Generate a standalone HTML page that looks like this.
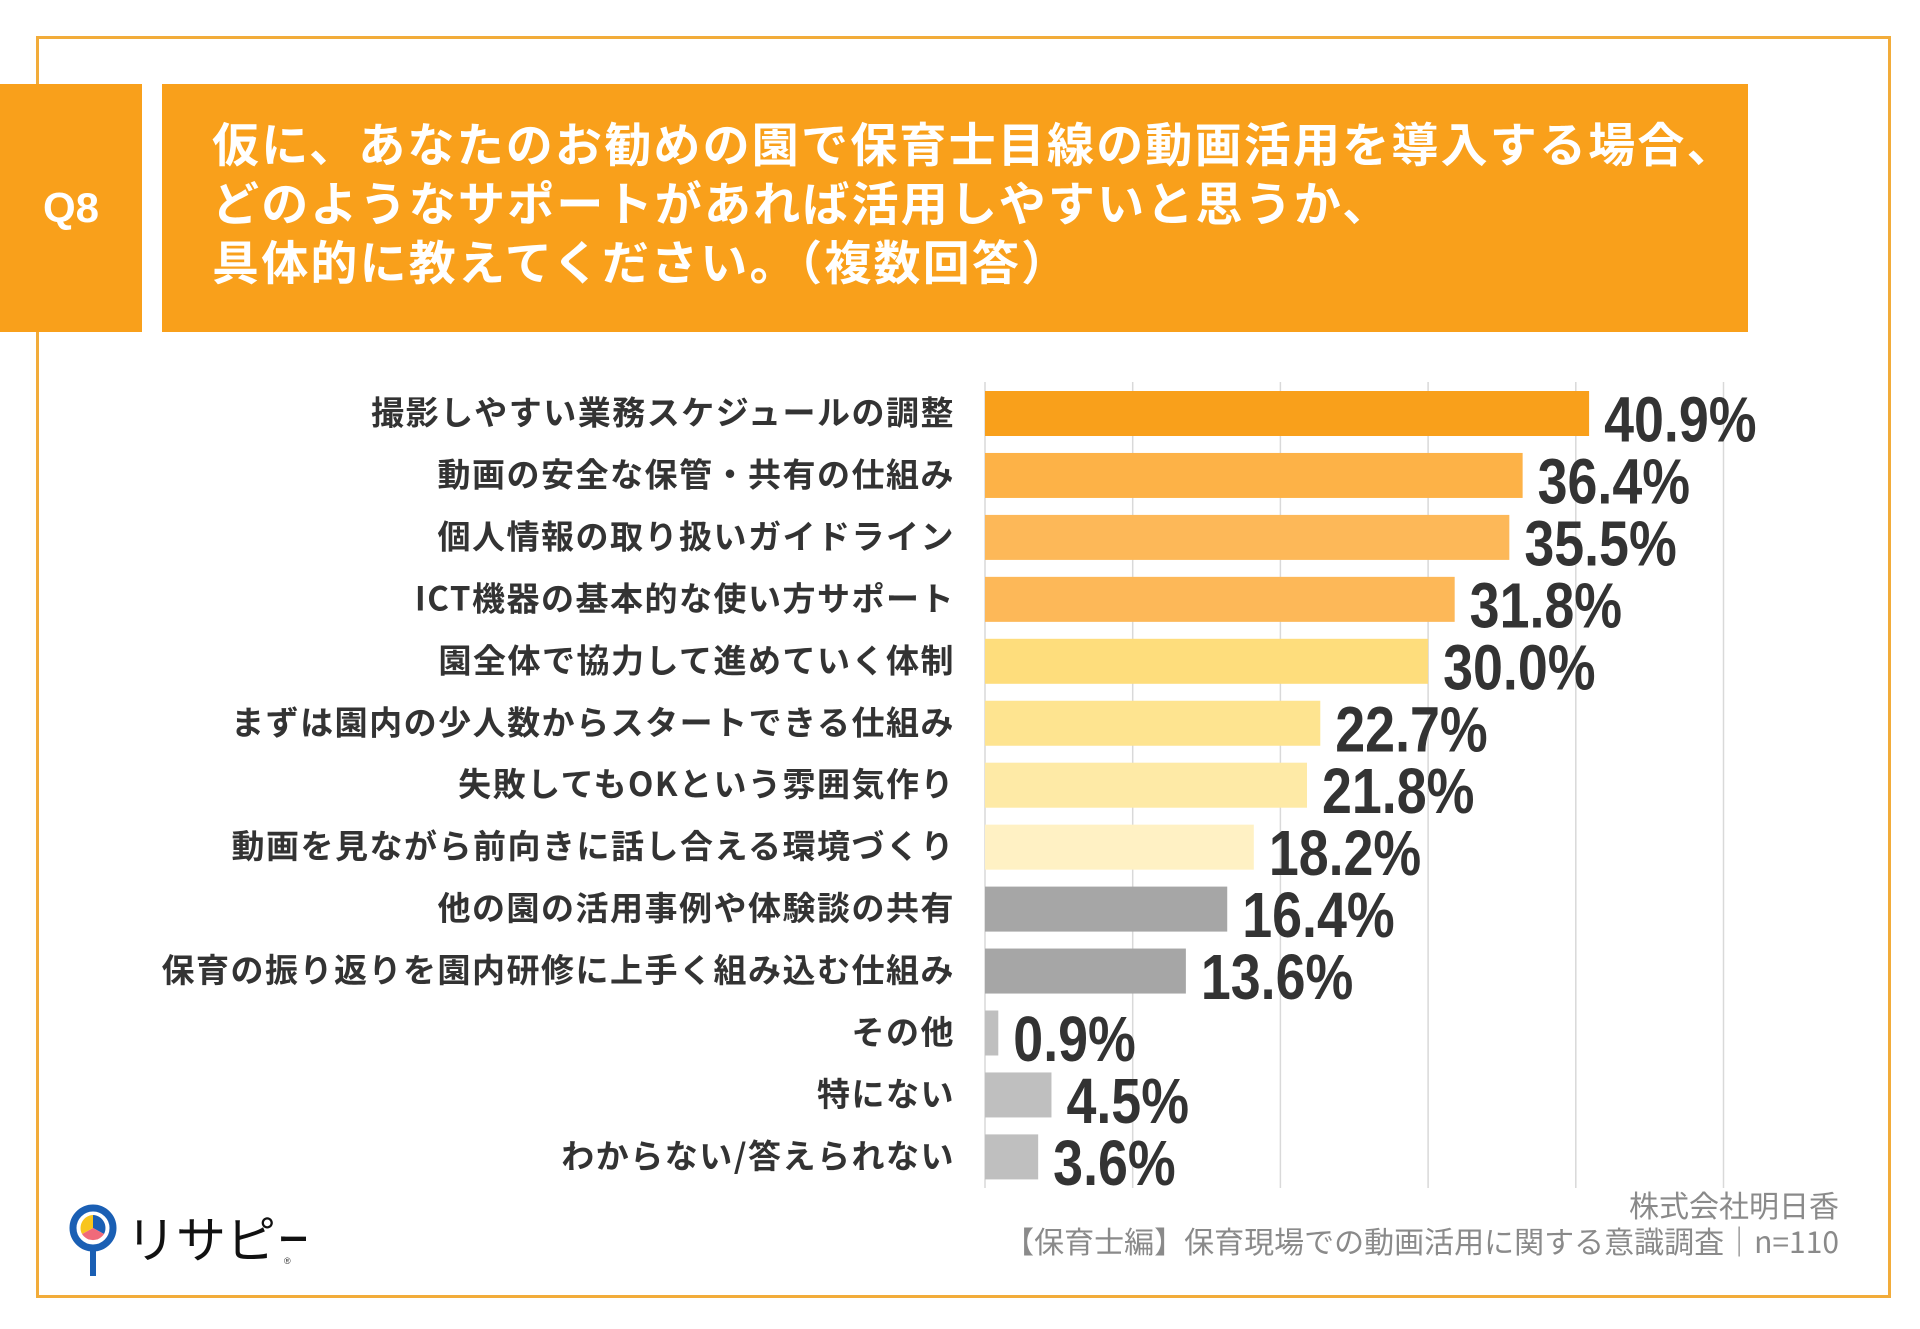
<!DOCTYPE html>
<html><head><meta charset="utf-8">
<style>
body{margin:0;background:#fff;}
#wrap{position:relative;width:1920px;height:1329px;overflow:hidden;background:#fff;font-family:"Liberation Sans","Noto Sans CJK JP",sans-serif;}
.frame{position:absolute;left:36px;top:36px;width:1855px;height:1262px;border:3px solid #f2ac3a;box-sizing:border-box;}
.q8{position:absolute;left:0;top:84px;width:142px;height:248px;background:#f9a01b;color:#fff;font-weight:bold;font-size:42px;display:flex;align-items:center;justify-content:center;}
.title{position:absolute;left:162px;top:84px;width:1586px;height:248px;background:#f9a01b;}
.title div{position:absolute;left:50px;color:#fff;font-weight:bold;font-size:47px;line-height:59px;font-family:"Noto Sans CJK JP",sans-serif;white-space:nowrap;letter-spacing:2.2px;}
.foot{position:absolute;right:81px;color:#8a8a8a;font-size:30px;font-family:"Noto Sans CJK JP",sans-serif;white-space:nowrap;}
</style></head><body>
<div id="wrap">
<div class="frame"></div>
<div class="q8">Q8</div>
<div class="title">
<div style="top:28px">仮に、あなたのお勧めの園で保育士目線の動画活用を導入する場合、</div>
<div style="top:87px">どのようなサポートがあれば活用しやすいと思うか、</div>
<div style="top:146px">具体的に教えてください。（複数回答）</div>
</div>
<svg id="chart" width="1920" height="1329" style="position:absolute;left:0;top:0"></svg>
<svg width="240" height="80" style="position:absolute;left:66px;top:1200px">
<circle cx="27" cy="28" r="20" fill="none" stroke="#1a5fb4" stroke-width="7"/>
<line x1="27" y1="48" x2="27" y2="76" stroke="#1a5fb4" stroke-width="6"/>
<path d="M27 28 L27 15 A13 13 0 0 1 38 34 Z" fill="#1a5fb4"/>
<path d="M27 28 L38 34 A13 13 0 0 1 16 34 Z" fill="#f06a7a"/>
<path d="M27 28 L16 34 A13 13 0 0 1 27 15 Z" fill="#f8c51c"/>
<text x="60" y="58" font-size="50" font-family="Noto Sans CJK JP,sans-serif" fill="#111">リサピー</text>
<text x="218" y="64" font-size="9" fill="#333">®</text>
</svg>
<div class="foot" style="top:1182px">株式会社明日香</div>
<div class="foot" style="top:1218px">【保育士編】保育現場での動画活用に関する意識調査｜n=110</div>
</div>
<script>
const categories=["撮影しやすい業務スケジュールの調整","動画の安全な保管・共有の仕組み","個人情報の取り扱いガイドライン","ICT機器の基本的な使い方サポート","園全体で協力して進めていく体制","まずは園内の少人数からスタートできる仕組み","失敗してもOKという雰囲気作り","動画を見ながら前向きに話し合える環境づくり","他の園の活用事例や体験談の共有","保育の振り返りを園内研修に上手く組み込む仕組み","その他","特にない","わからない/答えられない"];
const values=[40.9,36.4,35.5,31.8,30.0,22.7,21.8,18.2,16.4,13.6,0.9,4.5,3.6];
const valueLabels=["40.9%","36.4%","35.5%","31.8%","30.0%","22.7%","21.8%","18.2%","16.4%","13.6%","0.9%","4.5%","3.6%"];
const colors=["#f9a01b","#fdb247","#fdb858","#fdb858","#fedd7c","#fee490","#feeaa6","#fff1c4","#a6a6a6","#a6a6a6","#bfbfbf","#bfbfbf","#bfbfbf"];
const gridTicks=[0,10,20,30,40,50];
const NS="http://www.w3.org/2000/svg";
const svg=document.getElementById('chart');
const x0=985,pxPer=14.77,y0=413.5,pitch=61.95,bh=45;
const xs=v=>x0+v*pxPer;
const ys=i=>y0+i*pitch;
function mk(t,a){const e=document.createElementNS(NS,t);for(const k in a)e.setAttribute(k,a[k]);svg.appendChild(e);return e;}
gridTicks.forEach(t=>{
 const g=mk('line',{x1:xs(t),x2:xs(t),y1:382,y2:1188,stroke:'#d9d9d9','stroke-width':1.5});
 
 
});
categories.forEach((c,i)=>{
 const r=mk('rect',{x:x0,y:ys(i)-bh/2,width:xs(values[i])-x0,height:bh,fill:colors[i]});
 
 
 const l=mk('text',{x:955,y:ys(i)+11,'text-anchor':'end','font-size':33,'font-weight':'bold',fill:'#333','letter-spacing':'1.5px','font-family':'Noto Sans CJK JP,sans-serif'});
 l.textContent=c;
 
 
 const v=mk('text',{transform:'translate('+(xs(values[i])+15)+','+(ys(i)+28)+') scale(0.84,1)','font-size':64,'font-weight':'bold',fill:'#333','font-family':'Liberation Sans,sans-serif'});
 v.textContent=valueLabels[i];
 
 
});
</script>
</body></html>
